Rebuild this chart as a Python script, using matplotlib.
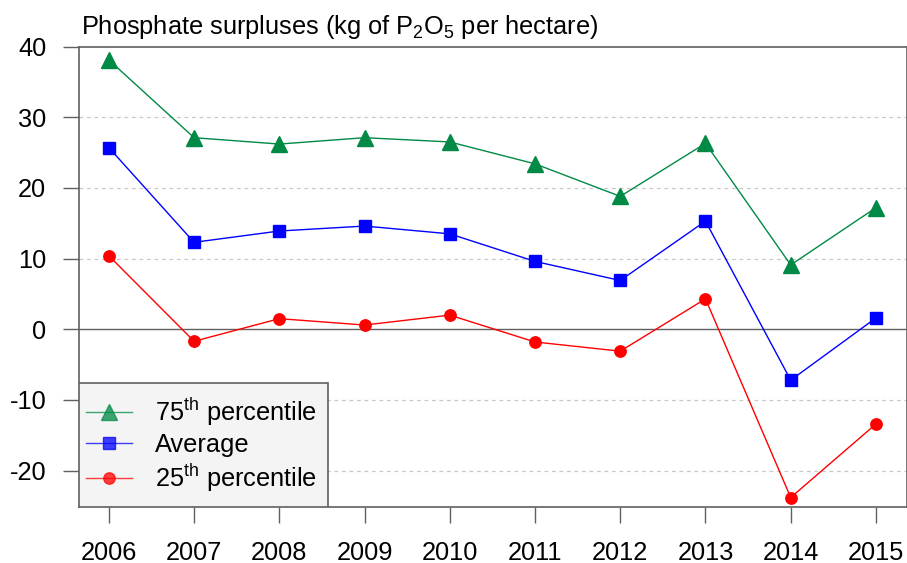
import matplotlib
matplotlib.use("Agg")
import matplotlib.pyplot as plt
from matplotlib.patches import Rectangle

# --------------------------------------------------------
# Data
# --------------------------------------------------------

years = [2006, 2007, 2008, 2009, 2010, 2011, 2012, 2013, 2014, 2015]

p75 = [38.1, 27.1, 26.2, 27.1, 26.5, 23.4, 18.8, 26.3, 9.1, 17.2]
average = [25.7, 12.3, 13.9, 14.6, 13.5, 9.6, 6.9, 15.3, -7.2, 1.6]
p25 = [10.4, -1.7, 1.5, 0.6, 2.0, -1.8, -3.1, 4.3, -23.8, -13.4]

y_ticks = [-20, -10, 0, 10, 20, 30, 40]

# --------------------------------------------------------
# Style
# --------------------------------------------------------

plt.rcParams["font.family"] = ["Liberation Sans", "DejaVu Sans"]
plt.rcParams["mathtext.fontset"] = "custom"
plt.rcParams["mathtext.rm"] = "Liberation Sans"
plt.rcParams["mathtext.it"] = "Liberation Sans:italic"
plt.rcParams["axes.unicode_minus"] = False

frame_col = "#606060"
green = "#008A45"
blue = "#0000FF"
red = "#FF0000"
fs = 18.3

fig = plt.figure(figsize=(9.07, 5.63), dpi=100)
ax = fig.add_axes([0.0871, 0.1, 0.9125, 0.8174])

for y in y_ticks:
    if y == 0:
        ax.axhline(0, color=frame_col, lw=1.0, zorder=1)
    elif y != 40:
        ax.axhline(y, color="#c8c8c8", lw=0.9, ls=(0, (3, 3)), zorder=1)

ax.plot(years, p75, color=green, lw=1.0, marker="^", ms=11,
        label=r"75$^{\rm th}$ percentile", zorder=3)
ax.plot(years, average, color=blue, lw=1.0, marker="s", ms=8.3,
        label="Average", zorder=3)
ax.plot(years, p25, color=red, lw=1.0, marker="o", ms=8.2,
        label=r"25$^{\rm th}$ percentile", zorder=3)

ax.set_xlim(2006 - 0.35, 2015 + 0.36)
ax.set_ylim(-25.1, 40)
ax.set_xticks(years)
ax.set_yticks(y_ticks)

for s in ax.spines.values():
    s.set_color(frame_col)
    s.set_linewidth(1.2)

ax.tick_params(axis="both", direction="out", length=11.5, width=1.0,
               color=frame_col, labelsize=fs, labelcolor="black")
ax.tick_params(axis="y", pad=12)
ax.tick_params(axis="x", pad=13)

fig.text(0.089, 0.9396, r"Phosphate surpluses (kg of P$_{\rm 2}$O$_{\rm 5}$ per hectare)",
         fontsize=fs, ha="left", va="baseline")

# legend box drawn by hand, legend itself unframed inside it
box = Rectangle((0, 0), 0.301, 0.269, transform=ax.transAxes,
                facecolor="#f4f4f4", edgecolor=frame_col, lw=1.2, zorder=4)
ax.add_patch(box)

leg = ax.legend(loc="center left", bbox_to_anchor=(0.0085, 0.134),
                borderaxespad=0, borderpad=0, frameon=False, fontsize=fs,
                handlelength=1.8, handletextpad=0.9, labelspacing=0.2)
leg.set_zorder(5)
for h in leg.legend_handles:
    h.set_alpha(0.75)

fig.savefig("out.png", dpi=100)
